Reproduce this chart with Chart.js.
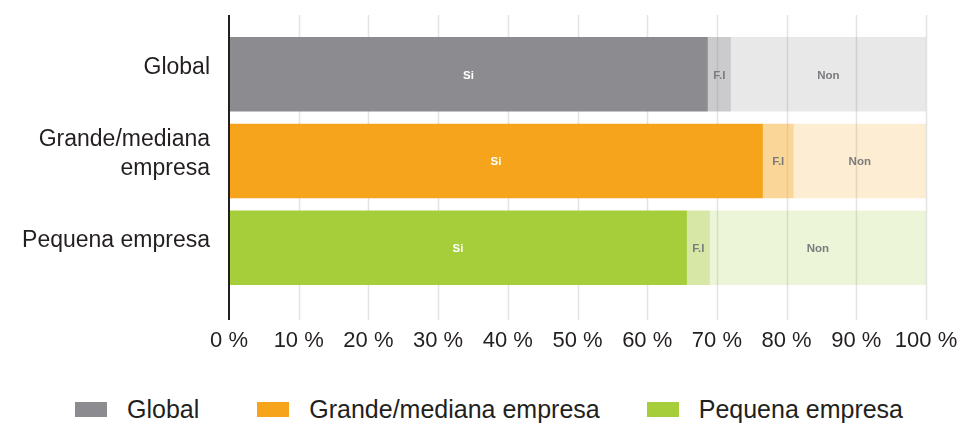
<!DOCTYPE html>
<html>
<head>
<meta charset="utf-8">
<script src="https://cdn.jsdelivr.net/npm/chart.js@4/dist/chart.umd.min.js"></script>
<style>
  html, body { margin: 0; padding: 0; background: #ffffff; }
  #wrap { position: relative; width: 970px; height: 423px; overflow: hidden; }
  #plot { position: absolute; left: 0; top: 0; width: 970px; height: 362px; }
  #legend {
    position: absolute; left: 75px; top: 395px;
    display: flex; align-items: center;
    font-family: "Liberation Sans", Arial, sans-serif; font-size: 25px; color: #231f20;
  }
  #legend .item { display: flex; align-items: center; gap: 20px; }
  #legend .item:nth-child(2) { margin-left: 58px; }
  #legend .item:nth-child(3) { margin-left: 47px; }
  #legend .swatch { width: 32px; height: 15px; }
</style>
</head>
<body>
<div id="wrap">
  <div id="plot"><canvas id="chart"></canvas></div>
  <div id="legend"></div>
</div>
<script>
// Companies answering the survey, by size
const categories = ['Global', ['Grande/mediana', 'empresa'], 'Pequena empresa'];
const legendNames = ['Global', 'Grande/mediana empresa', 'Pequena empresa'];
const answers = ['Si', 'F.I', 'Non'];

// Share of answers (%) per group
const siValues  = [68.7, 76.6, 65.7];
const fiValues  = [3.3, 4.4, 3.3];
const nonValues = [28.0, 19.0, 31.0];

const xTicks = [0, 10, 20, 30, 40, 50, 60, 70, 80, 90, 100];

// Group colours (RGB) – lighter answers are translucent shades of the same hue
const groupRGB = [[140, 139, 144], [247, 164, 29], [166, 205, 58]];
const shadeAlpha = [1, 0.45, 0.2];
const rgba = (c, a) => `rgba(${c[0]},${c[1]},${c[2]},${a})`;

const FONT = '"Liberation Sans", Arial, sans-serif';

const seriesValues = [siValues, fiValues, nonValues];
const datasets = answers.map((name, i) => ({
  label: name,
  data: seriesValues[i],
  backgroundColor: groupRGB.map(c => rgba(c, shadeAlpha[i])),
  borderWidth: 0,
  barPercentage: 0.86,
  categoryPercentage: 1
}));

// Light vertical grid plus the dark zero axis, extending a little past the plot area
const frame = {
  id: 'frame',
  beforeDatasetsDraw(chart) {
    const { ctx, chartArea, scales } = chart;
    const top = chartArea.top - 16, bottom = chartArea.bottom + 29;
    ctx.save();
    ctx.strokeStyle = '#e3e3e3';
    ctx.lineWidth = 1.5;
    xTicks.slice(1).forEach(v => {
      const x = Math.round(scales.x.getPixelForValue(v)) + 0.5;
      ctx.beginPath(); ctx.moveTo(x, top); ctx.lineTo(x, bottom); ctx.stroke();
    });
    ctx.restore();
  },
  afterDatasetsDraw(chart) {
    const { ctx, chartArea, scales } = chart;
    const top = chartArea.top - 16, bottom = chartArea.bottom + 29;
    ctx.save();
    ctx.strokeStyle = '#231f20';
    ctx.lineWidth = 2;
    const x = scales.x.getPixelForValue(0);
    ctx.beginPath(); ctx.moveTo(x, top); ctx.lineTo(x, bottom); ctx.stroke();

    // Answer names inside each segment
    ctx.font = '600 11.5px ' + FONT;
    ctx.textAlign = 'center';
    ctx.textBaseline = 'middle';
    chart.data.datasets.forEach((ds, i) => {
      chart.getDatasetMeta(i).data.forEach(bar => {
        ctx.fillStyle = i === 0 ? '#ffffff' : '#7b7b7d';
        ctx.fillText(ds.label, (bar.base + bar.x) / 2, bar.y + 1);
      });
    });
    ctx.restore();
  }
};

new Chart(document.getElementById('chart'), {
  type: 'bar',
  data: { labels: categories, datasets },
  options: {
    indexAxis: 'y',
    responsive: true,
    maintainAspectRatio: false,
    animation: false,
    layout: { padding: { top: 31, right: 44, left: 0, bottom: 7 } },
    plugins: { legend: { display: false }, tooltip: { enabled: false } },
    scales: {
      x: {
        stacked: true,
        min: 0, max: 100,
        afterBuildTicks: s => { s.ticks = xTicks.map(v => ({ value: v })); },
        afterFit: s => { s.height = 64; s.paddingLeft = 0; s.paddingRight = 0; },
        grid: { display: false, drawTicks: false },
        border: { display: false },
        ticks: {
          padding: 37,
          autoSkip: false,
          maxRotation: 0,
          minRotation: 0,
          color: '#231f20',
          font: { family: FONT, size: 22 },
          callback: v => v + ' %'
        }
      },
      y: {
        stacked: true,
        afterFit: s => { s.width = 229; s.paddingTop = 0; s.paddingBottom = 0; },
        grid: { display: false, drawTicks: false },
        border: { display: false },
        ticks: {
          padding: 19,
          labelOffset: -7,
          color: '#231f20',
          font: { family: FONT, size: 23, lineHeight: 1.25 }
        }
      }
    }
  },
  plugins: [frame]
});

// Legend keyed by company group
const legend = document.getElementById('legend');
legendNames.forEach((name, i) => {
  const item = document.createElement('div');
  item.className = 'item';
  const sw = document.createElement('span');
  sw.className = 'swatch';
  sw.style.background = rgba(groupRGB[i], 1);
  const tx = document.createElement('span');
  tx.textContent = name;
  item.append(sw, tx);
  legend.appendChild(item);
});
</script>
</body>
</html>
